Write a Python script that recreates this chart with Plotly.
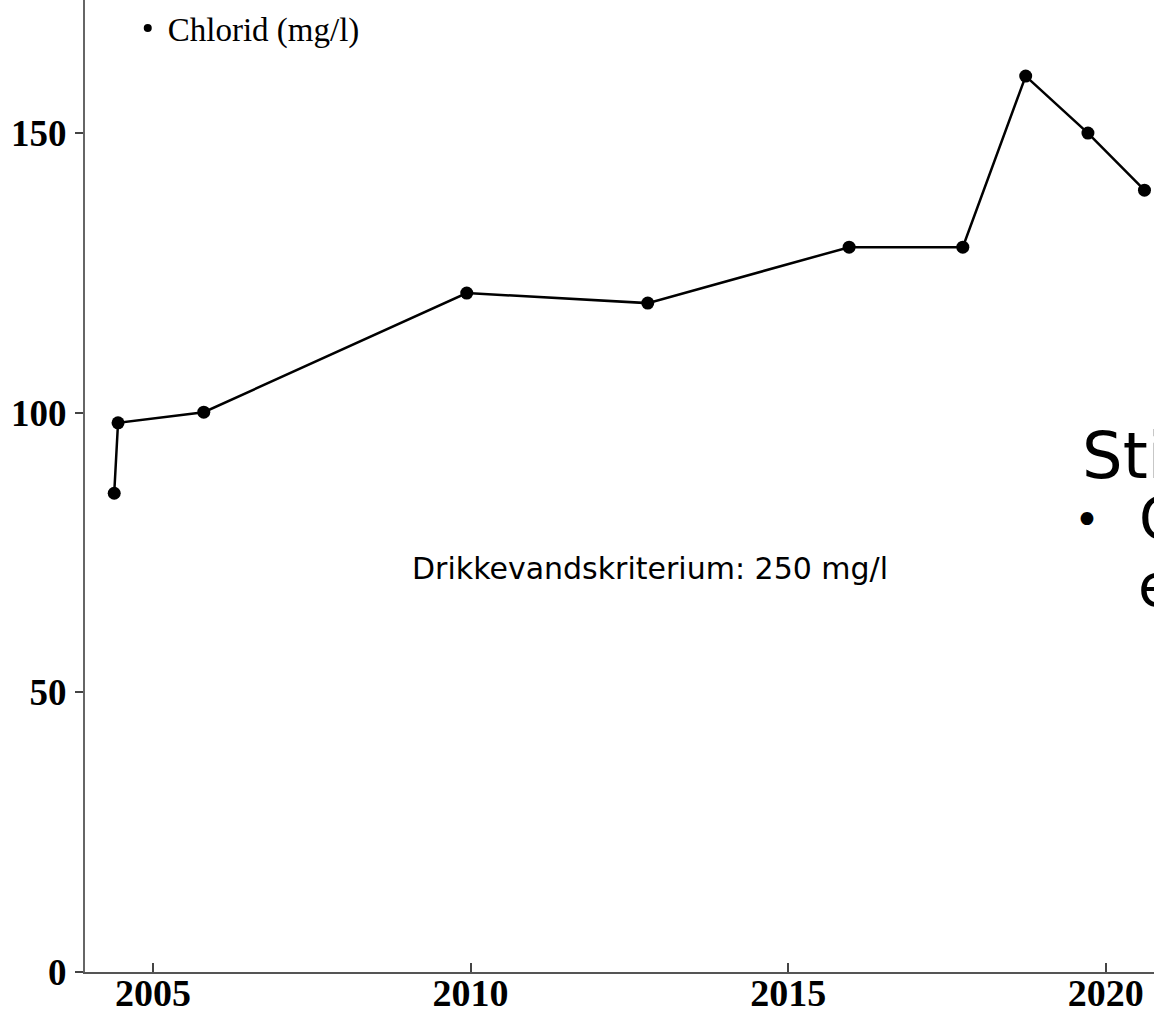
import plotly.graph_objects as go

# Data
years = [2004.39, 2004.45, 2005.80, 2009.94, 2012.79, 2015.96, 2017.75, 2018.74, 2019.72, 2020.61]
chlorid = [85.6, 98.2, 100.1, 121.4, 119.6, 129.6, 129.6, 160.2, 150.0, 139.8]
x_ticks = [2005, 2010, 2015, 2020]
y_ticks = [0, 50, 100, 150]
series_name = "Chlorid (mg/l)"
criterion_text = "Drikkevandskriterium: 250 mg/l"

fig = go.Figure()
fig.add_trace(go.Scatter(
    x=years, y=chlorid, mode="lines+markers",
    line=dict(color="black", width=2.5),
    marker=dict(color="black", size=13),
    showlegend=False, cliponaxis=False,
))
fig.add_trace(go.Scatter(
    x=[None], y=[None], mode="markers", name=series_name,
    marker=dict(color="black", size=8), showlegend=True,
))

xtick_font = dict(family="Liberation Serif", size=38, color="black", weight="bold")
ytick_font = dict(family="Liberation Serif", size=37, color="black", weight="bold")
fig.update_layout(
    width=1154, height=1016,
    margin=dict(l=85, r=0, t=0, b=44, autoexpand=False),
    plot_bgcolor="white", paper_bgcolor="white",
    xaxis=dict(range=[2003.93, 2020.76], tickvals=x_ticks, ticks="inside", ticklen=9,
               tickwidth=2, tickcolor="#444", showline=True, linecolor="#555", linewidth=2,
               showgrid=False, zeroline=False, tickfont=xtick_font, ticklabelstandoff=-14,
               automargin=False),
    yaxis=dict(range=[0, 173.8], tickvals=y_ticks, ticks="outside", ticklen=8,
               tickwidth=2, tickcolor="#444", showline=True, linecolor="#666", linewidth=2,
               showgrid=False, zeroline=False, tickfont=ytick_font, ticklabelstandoff=1,
               automargin=False),
    legend=dict(x=0.04, y=1.0, xanchor="left", yanchor="top",
                font=dict(family="Liberation Serif", size=33, color="black"),
                bgcolor="rgba(0,0,0,0)"),
    showlegend=True,
)

fig.add_annotation(x=2009.05, y=72.2, xref="x", yref="y", text=criterion_text,
                   showarrow=False, xanchor="left", yanchor="middle",
                   font=dict(family="DejaVu Sans", size=30, color="black"))
fig.add_annotation(x=2019.59, y=92.3, xref="x", yref="y", text="Stigning",
                   showarrow=False, xanchor="left", yanchor="middle",
                   font=dict(family="DejaVu Sans", size=64, color="black"))
fig.add_annotation(x=2019.47, y=81.0, xref="x", yref="y", text="•",
                   showarrow=False, xanchor="left", yanchor="middle",
                   font=dict(family="DejaVu Sans", size=44, color="black"))
fig.add_annotation(x=2020.50, y=81.0, xref="x", yref="y", text="Chlorid",
                   showarrow=False, xanchor="left", yanchor="middle",
                   font=dict(family="DejaVu Sans", size=58, color="black"))
fig.add_annotation(x=2020.47, y=69.0, xref="x", yref="y", text="er steget",
                   showarrow=False, xanchor="left", yanchor="middle",
                   font=dict(family="DejaVu Sans", size=58, color="black"))

fig.write_html("out.html", config={"displayModeBar": False},
               post_script="document.body.style.margin='0';document.body.style.overflow='hidden';")
